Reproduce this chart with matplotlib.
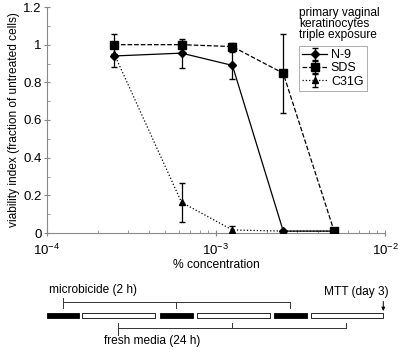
import matplotlib
matplotlib.use("Agg")
import matplotlib.pyplot as plt
from matplotlib.patches import Rectangle

plt.rcParams['font.family'] = ['Liberation Sans', 'DejaVu Sans']
plt.rcParams['font.size'] = 8.5

# data (% concentration vs viability index)
conc = [2.5e-4, 6.25e-4, 1.25e-3, 2.5e-3, 5e-3]
n9 = [0.94, 0.955, 0.89, 0.01, 0.01]
n9_err = [0.06, 0.077, 0.07, 0.0, 0.0]
sds = [1.0, 1.0, 0.99, 0.848, 0.01]
sds_err = [0.055, 0.02, 0.02, 0.21, 0.0]
c31g = [0.95, 0.163, 0.016, 0.01, 0.01]
c31g_err = [0.0, 0.105, 0.02, 0.0, 0.0]

fig = plt.figure(figsize=(4.0, 3.52), dpi=100)
ax = fig.add_axes([47/400, 1 - 233/352, (385 - 47)/400, (233 - 7)/352])

ax.errorbar(conc, sds, yerr=sds_err, color='black', ls='--', lw=0.9,
            marker='s', ms=5.5, capsize=2.5, elinewidth=0.9, label='SDS', zorder=3)
ax.errorbar(conc, n9, yerr=n9_err, color='black', ls='-', lw=0.9,
            marker='D', ms=4.5, capsize=2.5, elinewidth=0.9, label='N-9', zorder=4)
ax.errorbar(conc, c31g, yerr=c31g_err, color='black', ls=':', lw=0.9,
            marker='^', ms=5, capsize=2.5, elinewidth=0.9, label='C31G', zorder=3)

ax.set_xscale('log')
ax.set_xlim(1e-4, 1e-2)
ax.set_ylim(0, 1.2)
ax.set_yticks([0, 0.2, 0.4, 0.6, 0.8, 1.0, 1.2])
ax.set_yticklabels(['0', '0.2', '0.4', '0.6', '0.8', '1', '1.2'])
ax.set_yticks([0.1, 0.3, 0.5, 0.7, 0.9, 1.1], minor=True)
for s in ['top', 'right']:
    ax.spines[s].set_visible(False)
for s in ['left', 'bottom']:
    ax.spines[s].set_color('#888888')
    ax.spines[s].set_linewidth(0.8)
ax.tick_params(which='major', direction='inout', length=4, width=0.8,
               color='#888888', labelsize=9.5, pad=2)
ax.tick_params(axis='x', which='major', pad=5)
ax.tick_params(which='minor', direction='in', length=2, width=0.6, color='#888888')
ax.set_ylabel('viability index (fraction of untreated cells)', fontsize=8.6, labelpad=2)
ax.set_xlabel('% concentration', fontsize=8.7, labelpad=1)

handles, labels = ax.get_legend_handles_labels()
order = [labels.index(k) for k in ['N-9', 'SDS', 'C31G']]
leg = ax.legend([handles[i] for i in order], [labels[i] for i in order],
                loc='upper left', bbox_to_anchor=((299 - 47)/338, (233 - 46)/226),
                frameon=True, fancybox=False, edgecolor='#888888', fontsize=9,
                handlelength=2.0, handletextpad=0.3, borderpad=0.25,
                labelspacing=0.1, borderaxespad=0)
leg.get_frame().set_linewidth(0.6)

fig.text(299/400, 1 - 7/352, 'primary vaginal\nkeratinocytes\ntriple exposure',
         ha='left', va='top', fontsize=8.6, linespacing=0.9)

# treatment timeline below
tl = fig.add_axes([0, 0, 1, 1 - 270/352])
tl.set_xlim(0, 400)
tl.set_ylim(352, 270)
tl.axis('off')
bars = [(46.7, 79, 'black'), (82.3, 155.3, 'white'), (160.3, 192.7, 'black'),
        (197.3, 270, 'white'), (274.3, 307, 'black'), (311.3, 383.3, 'white')]
for x0, x1, fc in bars:
    tl.add_patch(Rectangle((x0, 312.8), x1 - x0, 4.8, facecolor=fc,
                           edgecolor='black', lw=0.6))
lc = '#333333'
tl.plot([63.3, 290.3], [302.3, 302.3], color=lc, lw=0.7)
tl.plot([63.3, 63.3], [298, 307.7], color=lc, lw=0.7)
tl.plot([176.3, 176.3], [302.3, 307.7], color=lc, lw=0.7)
tl.plot([290.3, 290.3], [302.3, 307.7], color=lc, lw=0.7)
tl.plot([118.3, 345.7], [328.3, 328.3], color=lc, lw=0.7)
tl.plot([118.3, 118.3], [323.3, 335], color=lc, lw=0.7)
tl.plot([232, 232], [323.3, 328.3], color=lc, lw=0.7)
tl.plot([345.7, 345.7], [323.3, 328.3], color=lc, lw=0.7)
tl.annotate('', xy=(383.3, 311), xytext=(383.3, 301.5),
            arrowprops=dict(arrowstyle='-|>', color='black', lw=0.7,
                            mutation_scale=5, shrinkA=0, shrinkB=0))
tl.text(49, 290.5, 'microbicide (2 h)', ha='left', va='center', fontsize=8.6)
tl.text(104, 341, 'fresh media (24 h)', ha='left', va='center', fontsize=8.6)
tl.text(389, 292.5, 'MTT (day 3)', ha='right', va='center', fontsize=8.6)

fig.savefig('out.png', dpi=100)
